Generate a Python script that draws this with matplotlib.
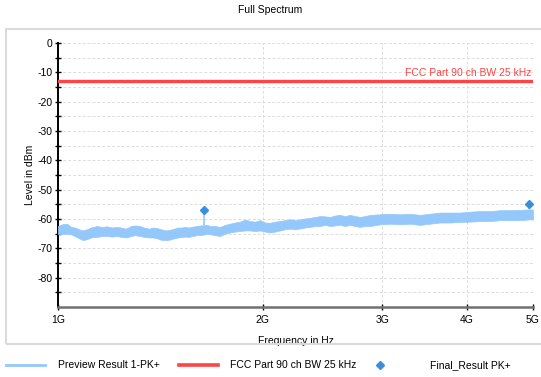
import numpy as np
import matplotlib
matplotlib.use("Agg")
from matplotlib import pyplot as plt
from matplotlib.lines import Line2D
from matplotlib.patches import Rectangle

plt.rcParams['font.family'] = ['Liberation Sans', 'DejaVu Sans']
plt.rcParams['axes.unicode_minus'] = False

# preview trace envelope (MHz, dBm)
freq_mhz = [1000, 1014, 1031, 1045, 1059, 1074, 1088, 1103, 1118, 1141, 1161, 1181, 1201, 1221, 1238,
            1259, 1281, 1298, 1320, 1338, 1361, 1380, 1399, 1418, 1442, 1461, 1481, 1502, 1522, 1538,
            1558, 1579, 1600, 1618, 1640, 1657, 1674, 1702, 1731, 1761, 1791, 1822, 1853, 1885, 1917,
            1950, 1983, 2017, 2051, 2086, 2122, 2158, 2195, 2233, 2271, 2309, 2349, 2389, 2430, 2471,
            2514, 2557, 2600, 2645, 2690, 2736, 2783, 2830, 2879, 2978, 3080, 3186, 3296, 3409, 3527,
            3649, 3775, 3905, 4040, 4178, 4323, 4472, 4627, 4786, 4951, 5000]
trace_top = [-62.4, -61.8, -61.6, -62.7, -62.9, -63.5, -63.9, -63.5, -62.9, -62.4, -62.7, -62.5, -62.9, -62.7, -62.9,
             -63.3, -62.4, -62.2, -62.4, -62.9, -63.3, -62.9, -63.1, -63.5, -63.9, -63.7, -63.3, -62.9, -62.9, -62.7,
             -62.9, -62.6, -62.4, -62.2, -62.1, -62.0, -62.4, -62.4, -62.7, -62.0, -61.6, -61.2, -60.9, -60.2, -60.7,
             -60.9, -60.4, -61.2, -61.3, -60.9, -60.7, -60.4, -60.1, -60.4, -60.1, -59.8, -59.6, -59.3, -59.0, -59.1,
             -59.3, -58.8, -58.6, -59.0, -58.6, -59.0, -59.3, -59.0, -58.6, -58.4, -58.2, -58.4, -58.2, -58.6, -58.2,
             -57.8, -57.8, -57.8, -57.5, -57.3, -57.3, -57.0, -57.0, -56.9, -56.7, -56.8]
trace_bot = [-65.2, -65.2, -65.0, -65.2, -65.8, -66.6, -67.2, -66.9, -66.3, -66.1, -65.8, -65.8, -66.0, -65.8, -66.1,
             -66.3, -65.8, -65.5, -65.8, -66.1, -66.3, -66.3, -66.6, -67.1, -67.2, -67.0, -66.6, -66.3, -66.1, -66.0,
             -66.1, -65.8, -65.5, -65.5, -65.3, -65.0, -65.2, -65.5, -65.8, -65.0, -64.6, -64.3, -64.1, -63.9, -63.9,
             -64.1, -63.9, -64.3, -64.6, -64.3, -63.9, -63.5, -63.3, -63.5, -63.2, -62.9, -62.7, -62.4, -62.4, -62.0,
             -62.4, -62.2, -62.0, -62.4, -62.0, -62.4, -62.7, -62.4, -62.4, -61.8, -61.6, -61.8, -61.6, -62.0, -61.6,
             -61.2, -61.2, -61.0, -60.9, -60.7, -60.7, -60.4, -60.4, -60.4, -60.1, -60.2]

# final result peaks
final_mhz = [1640, 4930]
final_lvl = [-57.0, -54.8]

limit_lvl = -13.0
limit_name = "FCC Part 90 ch BW 25 kHz"

xticks_hz = [1e9, 2e9, 3e9, 4e9, 5e9]
xtick_labels = ["1G", "2G", "3G", "4G", "5G"]

trace_col = '#94c8fa'
limit_col = '#ff4444'
final_col = '#3a8fdc'

W, H = 541, 377
fig = plt.figure(figsize=(W / 100, H / 100), dpi=100)
ax = fig.add_axes([58 / W, 1 - 307 / H, 475 / W, 264 / H])

# outer panel frame
fig.add_artist(Rectangle((6 / W, 1 - 344 / H), 1.0, 315 / H, transform=fig.transFigure,
                         fill=False, edgecolor='#dadada', lw=1.5))

f_hz = np.array(freq_mhz) * 1e6
ax.fill_between(f_hz, trace_bot, trace_top, color=trace_col, lw=0.5, edgecolor=trace_col, zorder=3)
for fm, lv in zip(final_mhz, final_lvl):
    base = np.interp(fm, freq_mhz, trace_top)
    ax.vlines(fm * 1e6, base, lv, color=trace_col, lw=1.2, zorder=3)
ax.plot(np.array(final_mhz) * 1e6, final_lvl, 'D', color=final_col, ms=4.5, zorder=5)

ax.axhline(limit_lvl, color=limit_col, lw=2.4, zorder=4)
ax.text(4.97e9, limit_lvl + 0.9, limit_name, color=limit_col, fontsize=7.5, ha='right', va='bottom')

ax.set_xscale('log')
ax.set_xlim(1e9, 5e9)
ax.set_ylim(-90, 0)
ax.set_xticks(xticks_hz)
ax.set_xticklabels(xtick_labels)
ax.xaxis.set_minor_locator(plt.NullLocator())
ax.set_yticks(np.arange(-80, 1, 10))
ax.set_yticklabels([str(v) for v in range(-80, 1, 10)])
ax.set_yticks(np.arange(-85, 0, 10), minor=True)

ax.grid(axis='y', which='both', ls=(0, (3, 2)), color='#dddddd', lw=0.7)
ax.grid(axis='x', which='major', ls=(0, (3, 2)), color='#dddddd', lw=0.7)
ax.set_axisbelow(True)

for s in ['top', 'right']:
    ax.spines[s].set_visible(False)
ax.spines['left'].set_color('black')
ax.spines['left'].set_linewidth(1.4)
ax.spines['bottom'].set_color('#707070')
ax.spines['bottom'].set_linewidth(1.8)

ax.tick_params(axis='y', which='both', direction='inout', length=4, width=1, pad=2, labelsize=7.5, color='black')
ax.tick_params(axis='x', which='major', direction='inout', length=4, width=1, pad=4, labelsize=7.5, color='black')

ax.set_xlabel("Frequency in Hz", fontsize=7.5)
ax.xaxis.set_label_coords(0.5, -0.108)
ax.set_ylabel("Level in dBm", fontsize=7.5)
ax.yaxis.set_label_coords(-0.048, 0.5)

fig.text(270 / W, 1 - 10 / H, "Full Spectrum", fontsize=7.5, ha='center', va='center')

# legend below the panel
ly = 1 - 365 / H
fig.add_artist(Line2D([6 / W, 45 / W], [ly, ly], color=trace_col, lw=2, transform=fig.transFigure))
fig.text(58 / W, ly, "Preview Result 1-PK+", fontsize=7.5, va='center')
fig.add_artist(Line2D([179 / W, 218 / W], [ly, ly], color=limit_col, lw=2.6, transform=fig.transFigure))
fig.text(230 / W, ly, limit_name, fontsize=7.5, va='center')
fig.add_artist(Line2D([380 / W], [ly], marker='D', ms=4.5, color=final_col, lw=0, transform=fig.transFigure))
fig.text(430 / W, ly, "Final_Result PK+", fontsize=7.5, va='center')

fig.savefig("out.png", dpi=100)
